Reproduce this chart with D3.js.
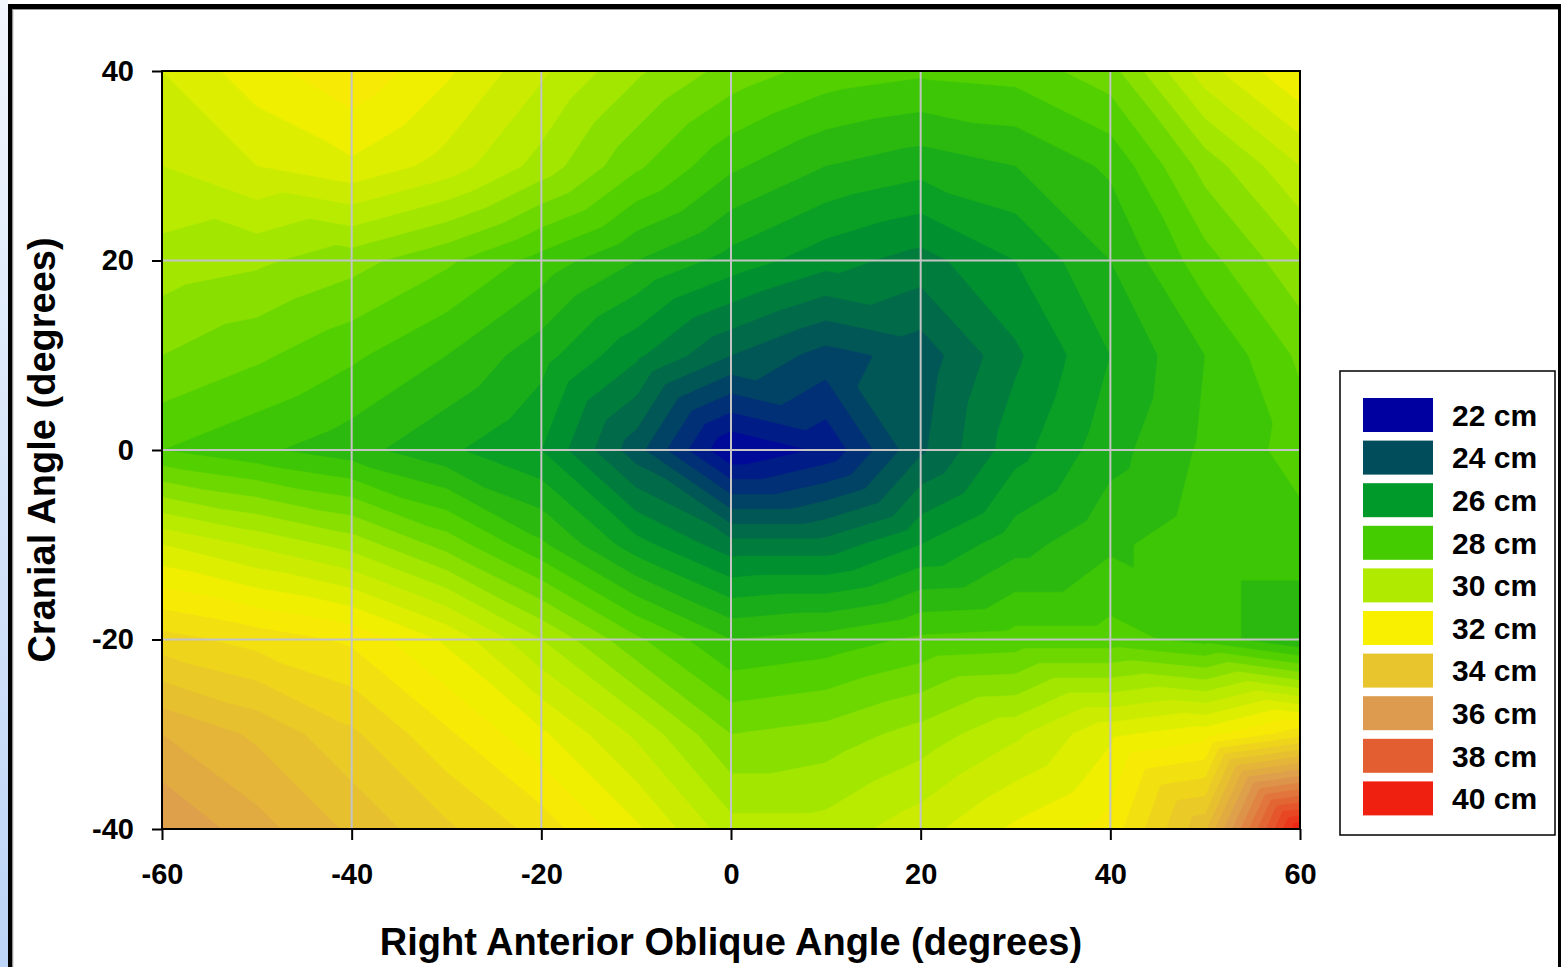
<!DOCTYPE html>
<html>
<head>
<meta charset="utf-8">
<script src="https://cdn.jsdelivr.net/npm/d3@7"></script>
<style>
  body { margin: 0; background: #ffffff; }
  svg { display: block; }
  text { font-family: Arial, "Liberation Sans", sans-serif; font-weight: bold; fill: #000; }
</style>
</head>
<body>
<svg id="chart" width="1561" height="967"></svg>
<script>
// ---------------- DATA ----------------
// grid positions (degrees)
const xGrid = [-60, -50, -40, -30, -20, -10, 0, 10, 20, 30, 40, 50, 60];
const yGrid = [40, 30, 20, 10, 0, -10, -20, -30, -40];
// source-to-image distance (cm) per grid row, top (40) to bottom (-40)
const rowP40 = [31.0, 31.8, 32.4, 31.6, 30.6, 29.6, 28.8, 28.3, 28.1, 28.2, 28.8, 30.8, 32.0];
const rowP30 = [30.5, 31.0, 31.4, 30.8, 29.8, 28.6, 27.6, 27.0, 26.7, 27.0, 27.6, 29.2, 30.5];
const rowP20 = [29.8, 29.6, 29.2, 28.6, 27.8, 27.0, 26.3, 25.7, 25.3, 26.0, 27.0, 28.3, 29.4];
const rowP10 = [29.0, 28.6, 28.1, 27.5, 26.7, 25.6, 24.5, 23.8, 24.2, 25.4, 26.5, 27.5, 28.6];
const row0   = [28.0, 27.6, 27.2, 26.6, 26.0, 24.2, 22.0, 22.6, 24.4, 25.8, 26.8, 27.6, 28.2];
const rowM10 = [31.0, 30.4, 29.8, 28.8, 27.6, 26.2, 25.2, 25.2, 26.0, 26.8, 27.4, 27.8, 27.8];
const rowM20 = [33.2, 32.8, 32.4, 31.4, 30.0, 28.6, 27.5, 27.7, 28.1, 28.2, 28.2, 27.8, 27.0];
const rowM30 = [35.0, 34.4, 33.6, 32.6, 31.6, 30.4, 29.0, 29.2, 29.7, 30.4, 31.4, 31.8, 32.8];
const rowM40 = [36.0, 35.2, 34.4, 33.6, 32.8, 31.6, 30.2, 30.2, 30.8, 31.6, 32.2, 34.4, 40.0];
const gridRows = [rowP40, rowP30, rowP20, rowP10, row0, rowM10, rowM20, rowM30, rowM40];

const xTicks = [-60, -40, -20, 0, 20, 40, 60];
const yTicks = [-40, -20, 0, 20, 40];
const legendLevels = [22, 24, 26, 28, 30, 32, 34, 36, 38, 40];
const legendLabels = ["22 cm", "24 cm", "26 cm", "28 cm", "30 cm", "32 cm", "34 cm", "36 cm", "38 cm", "40 cm"];
const legendColors = ["#0000a0", "#014d5c", "#009a2a", "#45cc00", "#b0ea00",
                      "#f9f000", "#e8c52c", "#dd9b4f", "#e35e30", "#f02010"];
const bandStep = 0.5;
const xTitle = "Right Anterior Oblique Angle (degrees)";
const yTitle = "Cranial Angle (degrees)";

// ---------------- LAYOUT ----------------
const W = 1561, H = 967;
const plot = { left: 162, right: 1300, top: 71, bottom: 829 };
const svg = d3.select("#chart");

// page decoration (blue strip + black frame)
const defs = svg.append("defs");
const lg = defs.append("linearGradient").attr("id", "strip").attr("x1", 0).attr("y1", 0).attr("x2", 0).attr("y2", 1);
lg.append("stop").attr("offset", "0%").attr("stop-color", "#f2f6fd");
lg.append("stop").attr("offset", "100%").attr("stop-color", "#bcd4f6");
svg.append("rect").attr("x", 0).attr("y", 0).attr("width", 8).attr("height", H).attr("fill", "url(#strip)");
svg.append("rect").attr("x", 8).attr("y", 4).attr("width", W - 8).attr("height", 5).attr("fill", "#000");
svg.append("rect").attr("x", 8).attr("y", 4).attr("width", 4.5).attr("height", H).attr("fill", "#000");
svg.append("rect").attr("x", 1558).attr("y", 4).attr("width", 3).attr("height", H).attr("fill", "#000");
svg.append("line").attr("x1", 12.5).attr("x2", 1558).attr("y1", 9.5).attr("y2", 9.5).attr("stroke", "#999").attr("stroke-width", 1);
svg.append("line").attr("x1", 12.8).attr("x2", 12.8).attr("y1", 9.5).attr("y2", H).attr("stroke", "#999").attr("stroke-width", 1);

// scales
const x = d3.scaleLinear().domain([-60, 60]).range([plot.left, plot.right]);
const y = d3.scaleLinear().domain([-40, 40]).range([plot.bottom, plot.top]);
const color = d3.scaleLinear().domain(legendLevels).range(legendColors)
  .interpolate(d3.interpolateRgb).clamp(true);

// piecewise-linear (triangulated) interpolation of the grid
function field(xv, yv) {
  const fi = (xv - xGrid[0]) / (xGrid[1] - xGrid[0]);
  const fr = (yGrid[0] - yv) / (yGrid[0] - yGrid[1]);
  let i = Math.max(0, Math.min(xGrid.length - 2, Math.floor(fi)));
  let r = Math.max(0, Math.min(yGrid.length - 2, Math.floor(fr)));
  const u = fi - i, v = fr - r;
  const A = gridRows[r][i], B = gridRows[r][i + 1], C = gridRows[r + 1][i], D = gridRows[r + 1][i + 1];
  if (u >= v) return A + u * (B - A) + v * (D - B);
  return A + v * (C - A) + u * (D - C);
}

// fine sampling
const nx = 569, ny = 379;
const gx = d3.scaleLinear().domain([0, nx]).range(x.domain());
const gy = d3.scaleLinear().domain([0, ny]).range([40, -40]);
const samples = new Float64Array(nx * ny);
for (let j = 0; j < ny; j++) {
  for (let i = 0; i < nx; i++) {
    samples[j * nx + i] = field(gx(i + 0.5), gy(j + 0.5));
  }
}
const thresholds = d3.range(20, 40.01, bandStep);
const contours = d3.contours().size([nx, ny]).thresholds(thresholds)(samples);

const proj = d3.geoTransform({
  point: function (px, py) { this.stream.point(x(gx(px)), y(gy(py))); }
});
const path = d3.geoPath(proj);

defs.append("clipPath").attr("id", "plotClip").append("rect")
  .attr("x", plot.left).attr("y", plot.top)
  .attr("width", plot.right - plot.left).attr("height", plot.bottom - plot.top);

svg.append("g").attr("clip-path", "url(#plotClip)")
  .selectAll("path").data(contours).join("path")
  .attr("d", path)
  .attr("fill", d => color(d.value + bandStep / 2))
  .attr("stroke", d => color(d.value + bandStep / 2))
  .attr("stroke-width", 0.6);

// grid lines
const gridG = svg.append("g");
gridG.selectAll("line.vx").data(xTicks.slice(1, -1)).join("line")
  .attr("x1", d => x(d)).attr("x2", d => x(d))
  .attr("y1", plot.top).attr("y2", plot.bottom)
  .attr("stroke", "#c4c4c4").attr("stroke-width", 2);
gridG.selectAll("line.hy").data(yTicks.slice(1, -1)).join("line")
  .attr("x1", plot.left).attr("x2", plot.right)
  .attr("y1", d => y(d)).attr("y2", d => y(d))
  .attr("stroke", "#c4c4c4").attr("stroke-width", 2);

// axes
const fmt = d => String(d);
const axL = svg.append("g").attr("transform", `translate(${plot.left},0)`)
  .call(d3.axisLeft(y).tickValues(yTicks).tickFormat(fmt).tickSize(10).tickPadding(18));
const axB = svg.append("g").attr("transform", `translate(0,${plot.bottom})`)
  .call(d3.axisBottom(x).tickValues(xTicks).tickFormat(fmt).tickSize(11).tickPadding(23));
[axL, axB].forEach(a => {
  a.select(".domain").remove();
  a.selectAll(".tick line").attr("stroke", "#000").attr("stroke-width", 2);
  a.selectAll(".tick text").attr("font-size", 29).attr("font-family", "Arial, 'Liberation Sans', sans-serif")
    .attr("font-weight", "bold").attr("fill", "#000");
});

// plot frame
svg.append("rect").attr("x", plot.left).attr("y", plot.top)
  .attr("width", plot.right - plot.left).attr("height", plot.bottom - plot.top)
  .attr("fill", "none").attr("stroke", "#000").attr("stroke-width", 2);

// axis titles
svg.append("text").attr("x", (plot.left + plot.right) / 2).attr("y", 955)
  .attr("text-anchor", "middle").attr("font-size", 38).text(xTitle);
svg.append("text").attr("transform", `translate(55,${(plot.top + plot.bottom) / 2}) rotate(-90)`)
  .attr("text-anchor", "middle").attr("font-size", 38).text(yTitle);

// legend
const leg = svg.append("g");
leg.append("rect").attr("x", 1340).attr("y", 371).attr("width", 215).attr("height", 464)
  .attr("fill", "#fff").attr("stroke", "#000").attr("stroke-width", 1.5);
const items = leg.selectAll("g.item").data(legendLevels).join("g")
  .attr("transform", (d, i) => `translate(1363,${398 + i * 42.6})`);
items.append("rect").attr("width", 70).attr("height", 34).attr("fill", d => color(d));
items.append("text").attr("x", 89).attr("y", 17).attr("dy", "0.36em")
  .attr("font-size", 30).text((d, i) => legendLabels[i]);
</script>
</body>
</html>
